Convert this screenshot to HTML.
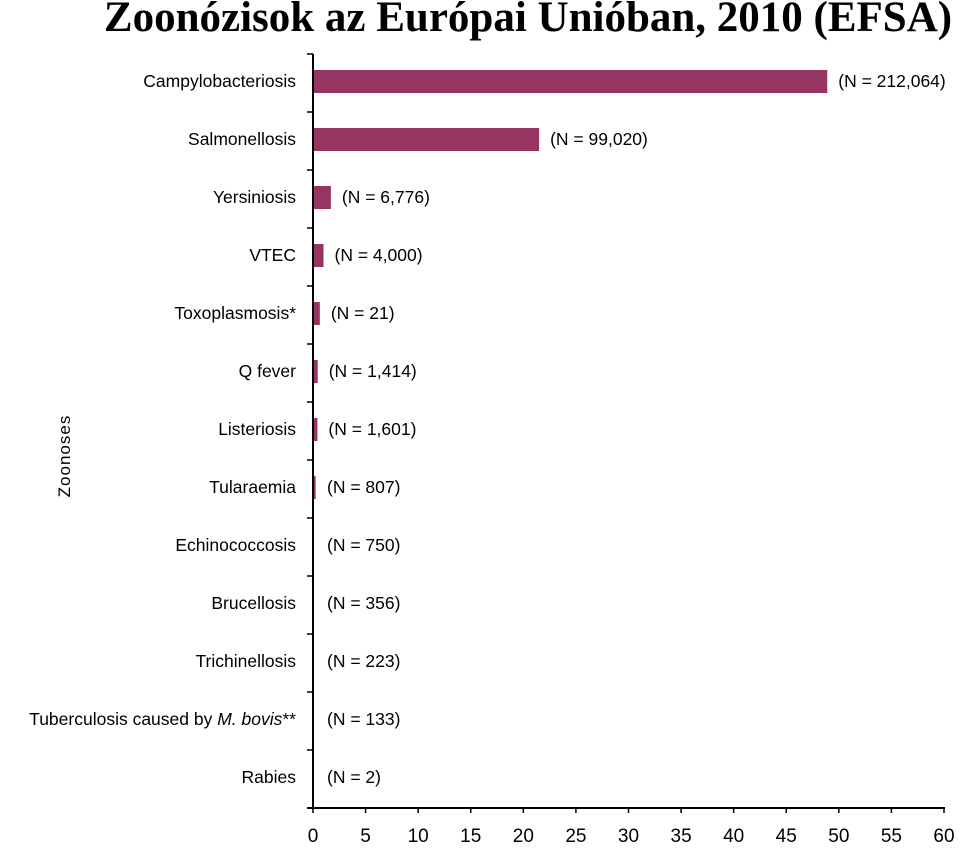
<!DOCTYPE html>
<html><head><meta charset="utf-8"><style>
body{margin:0;background:#fff;width:960px;height:845px;overflow:hidden}
svg text{font-family:"Liberation Sans",Arial,sans-serif}
</style></head><body>
<svg width="960" height="845">
<text x="528" y="31" text-anchor="middle" style="font-family:'Liberation Serif',serif;font-weight:bold;font-size:43px">Zoonózisok az Európai Unióban, 2010 (EFSA)</text>
<text transform="translate(70,456) rotate(-90)" text-anchor="middle" font-size="17" letter-spacing="1">Zoonoses</text>
<g id="g"></g>
</svg>
<script>
const categories=["Campylobacteriosis","Salmonellosis","Yersiniosis","VTEC","Toxoplasmosis*","Q fever","Listeriosis","Tularaemia","Echinococcosis","Brucellosis","Trichinellosis","Tuberculosis caused by M. bovis**","Rabies"];
const values=[48.9,21.5,1.7,1.0,0.65,0.45,0.42,0.25,0,0,0,0,0];
const counts=["212,064","99,020","6,776","4,000","21","1,414","1,601","807","750","356","223","133","2"];
const ticks=[0,5,10,15,20,25,30,35,40,45,50,55,60];
const NS="http://www.w3.org/2000/svg",g=document.getElementById('g');
const x0=313,x1=944,topY=54,rowH=58;
const xs=v=>x0+(v/60)*(x1-x0);
function mk(t,a,p){const e=document.createElementNS(NS,t);for(const k in a)e.setAttribute(k,a[k]);(p||g).appendChild(e);return e;}
categories.forEach((c,i)=>{
 const y=topY+i*rowH;
 const tk=mk('line',{x1:307,x2:x0,y1:y,y2:y,stroke:'#000','stroke-width':1.5});
 
 
 const lab=mk('text',{x:296,y:y+33,'text-anchor':'end','font-size':17.5});
 
 
 if(c.indexOf('M. bovis')>=0){lab.textContent='Tuberculosis caused by ';const t=mk('tspan',{'font-style':'italic'},lab);t.textContent='M. bovis';const t2=mk('tspan',{},lab);t2.textContent='**';}
 else lab.textContent=c;
 const w=xs(values[i])-x0;
 if(w>0){const b=mk('rect',{x:x0,y:y+16,width:w,height:23,fill:'#963462'});
 
 }
 const n=mk('text',{x:Math.max(xs(values[i])+11,327),y:y+33,'font-size':17.5});
 
 
 n.textContent='(N = '+counts[i]+')';
});
const yb=topY+categories.length*rowH;
const ya=mk('line',{x1:x0,x2:x0,y1:topY,y2:yb,stroke:'#000','stroke-width':2});


const xa=mk('line',{x1:x0-6,x2:x1+1,y1:yb,y2:yb,stroke:'#000','stroke-width':2});


ticks.forEach(t=>{
 const x=xs(t);
 const l=mk('line',{x1:x,x2:x,y1:yb,y2:yb+5,stroke:'#000','stroke-width':1.5});
 
 
 const tx=mk('text',{x:x,y:842,'text-anchor':'middle','font-size':19});
 
 
 tx.textContent=t;
});
</script>
</body></html>
